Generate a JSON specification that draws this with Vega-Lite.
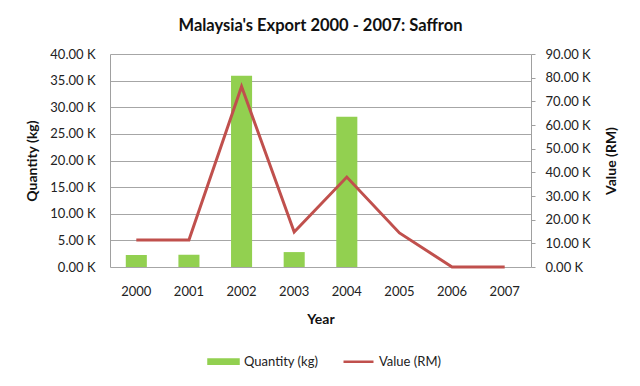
{
  "$schema": "https://vega.github.io/schema/vega-lite/v6.json",
  "width": 421,
  "height": 213,
  "autosize": "none",
  "padding": {"left": 110, "top": 54, "right": 109, "bottom": 119},
  "background": "white",
  "title": {"text": "Malaysia's Export 2000 - 2007: Saffron", "fontSize": 16.5, "font": "Lato", "fontWeight": "bold", "color": "#111", "anchor": "middle", "offset": 14},
  "config": {"view": {"stroke": null}, "font": "Lato"},
  "data": {"values": [
    {"year": "2000", "quantity": 2250, "value": 11400},
    {"year": "2001", "quantity": 2300, "value": 11400},
    {"year": "2002", "quantity": 35900, "value": 76300},
    {"year": "2003", "quantity": 2800, "value": 14800},
    {"year": "2004", "quantity": 28200, "value": 38000},
    {"year": "2005", "quantity": 0, "value": 14400},
    {"year": "2006", "quantity": 0, "value": 0},
    {"year": "2007", "quantity": 0, "value": 0}
  ]},
  "encoding": {
    "x": {"field": "year", "type": "ordinal", "title": "Year",
      "scale": {"paddingInner": 0.6, "paddingOuter": 0.3},
      "axis": {"labelAngle": 0, "labelFontSize": 13, "labelColor": "#222", "ticks": false, "domain": false, "labelPadding": 18, "titleFontSize": 14, "titleFontWeight": "bold", "titleColor": "#111", "titlePadding": 14}}
  },
  "layer": [
    {
      "mark": {"type": "bar", "color": "#92d050"},
      "encoding": {
        "y": {"field": "quantity", "type": "quantitative", "title": "Quantity (kg)",
          "scale": {"domain": [0, 40000]},
          "axis": {"values": [0, 5000, 10000, 15000, 20000, 25000, 30000, 35000, 40000], "labelExpr": "format(datum.value/1000, '.2f') + ' K'", "labelFontSize": 13, "labelColor": "#222", "ticks": false, "labelPadding": 15, "domainColor": "#a0a0a0", "gridColor": "#a6a6a6", "grid": true, "titleFontSize": 14, "titleFontWeight": "bold", "titleColor": "#111", "titlePadding": 10}},
        "color": {"datum": "Quantity (kg)", "type": "nominal",
          "scale": {"domain": ["Quantity (kg)", "Value (RM)"], "range": ["#92d050", "#c0504d"]},
          "legend": {"orient": "none", "legendX": 97, "legendY": 291, "direction": "horizontal", "title": null, "labelFontSize": 13, "labelColor": "#222", "symbolSize": 900, "labelOffset": 4, "columnPadding": 19,
            "encode": {"symbols": {"update": {
              "shape": {"signal": "datum.value == 'Quantity (kg)' ? 'M-1,-0.14H1V0.14H-1Z' : 'M-1,0H1'"},
              "fill": {"signal": "datum.value == 'Quantity (kg)' ? '#92d050' : 'transparent'"},
              "stroke": {"signal": "datum.value == 'Quantity (kg)' ? 'transparent' : '#c0504d'"},
              "strokeWidth": {"value": 2.5},
              "opacity": {"value": 1}
            }}}}
        }
      }
    },
    {
      "mark": {"type": "line", "strokeWidth": 3, "color": "#c0504d"},
      "encoding": {
        "y": {"field": "value", "type": "quantitative", "title": "Value (RM)",
          "scale": {"domain": [0, 90000]},
          "axis": {"orient": "right", "values": [0, 10000, 20000, 30000, 40000, 50000, 60000, 70000, 80000, 90000], "labelExpr": "format(datum.value/1000, '.2f') + ' K'", "labelFontSize": 13, "labelColor": "#222", "grid": false, "tickSize": 4, "tickColor": "#a0a0a0", "domainColor": "#a0a0a0", "labelPadding": 10, "titleAngle": 270, "titleBaseline": "top", "titleFontSize": 14, "titleFontWeight": "bold", "titleColor": "#111", "titlePadding": 14}},
        "color": {"datum": "Value (RM)", "type": "nominal"}
      }
    }
  ],
  "resolve": {"scale": {"y": "independent"}}
}
